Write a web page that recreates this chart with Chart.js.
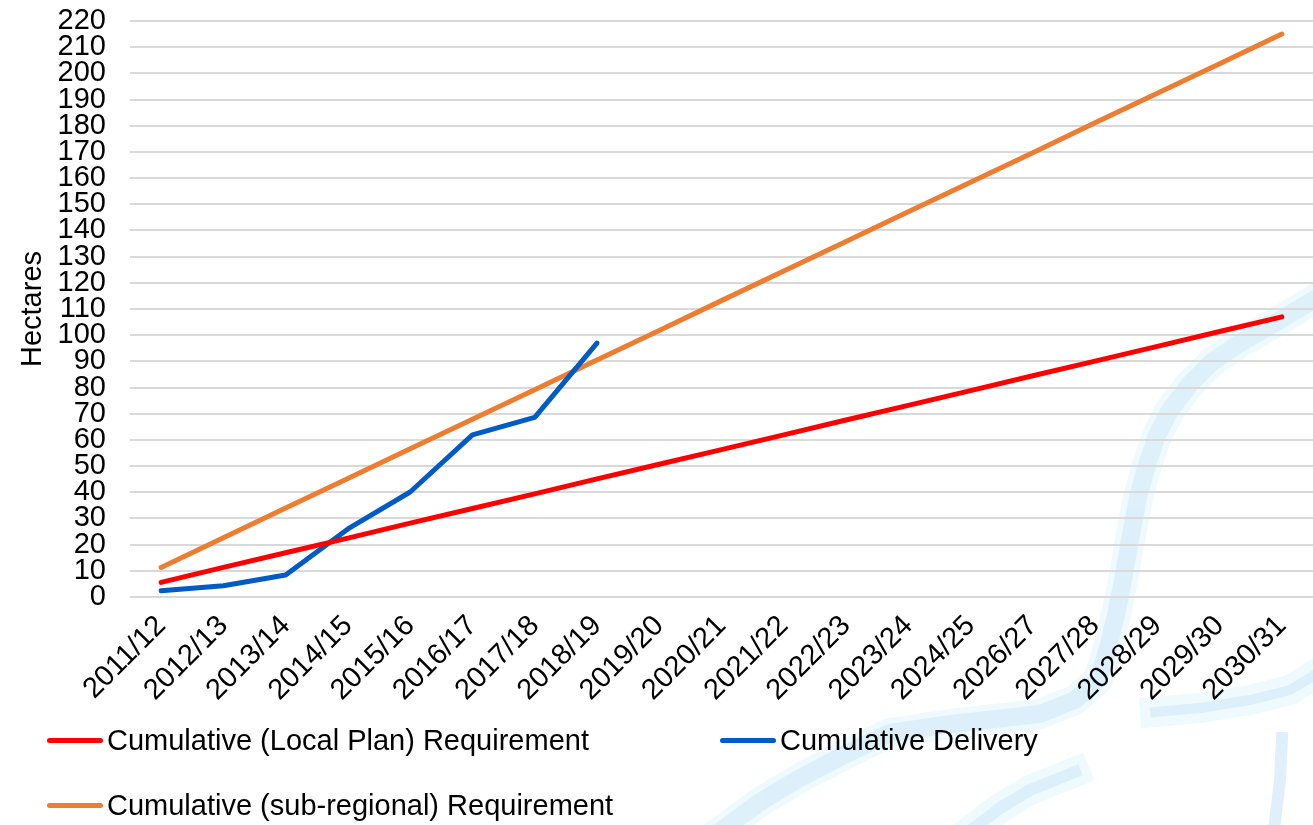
<!DOCTYPE html>
<html lang="en">
<head>
<meta charset="UTF-8">
<title>Cumulative Requirement and Delivery</title>
<script src="https://cdn.jsdelivr.net/npm/chart.js"></script>
<style>
  body { margin: 0; background: #fff; font-family: "Liberation Sans", Arial, sans-serif; }
  #wrap { position: relative; width: 1313px; height: 825px; overflow: hidden; }
  #back, #chart { position: absolute; left: 0; top: 0; }
  .item { position: absolute; display: flex; align-items: center; font-size: 29px; color: #000; white-space: nowrap; }
  .swatch { width: 56px; height: 5px; border-radius: 3px; margin-right: 4px; }
</style>
</head>
<body>
<div id="wrap">
  <!-- faint blue backdrop shape behind the plot -->
  <svg id="back" width="1313" height="825">
    <g fill="none" stroke-linecap="square" stroke-linejoin="round">
      <g stroke="#eefafe" stroke-width="30">
        <polyline points="1320,296 1280,320 1240,343 1212,362 1190,384 1170,410 1156,438 1146,468 1138,498 1130,540 1123,580 1116,615 1108,648 1098,680 1075,700 1040,714 950,724 890,733 850,752 800,778 760,802 722,830"/>
        <polyline points="1075,772 1030,790 1000,808 965,835"/>
        <polyline points="1155,712 1200,708 1250,700 1290,690 1320,672"/>
      </g>
      <g stroke="#daeefa" opacity="0.85">
        <polyline stroke-width="18" points="1320,296 1280,320 1240,343 1212,362 1190,384 1170,410 1156,438 1146,468 1138,498 1130,540 1123,580 1116,615 1108,648 1098,680 1075,700 1040,714 950,724 890,733 850,752 800,778 760,802 722,830"/>
        <polyline stroke-width="12" points="1075,772 1030,790 1000,808 965,835"/>
        <polyline stroke-width="12" points="1282,738 1280,780 1274,830"/>
        <polyline stroke-width="10" points="1155,712 1200,708 1250,700 1290,690 1320,672"/>
      </g>
    </g>
  </svg>
  <canvas id="chart" width="1313" height="825"></canvas>
  <div id="legend"></div>
</div>
<script>
// years on the x axis (no 2025/26 row in the table)
const years = ['2011/12', '2012/13', '2013/14', '2014/15', '2015/16', '2016/17', '2017/18',
  '2018/19', '2019/20', '2020/21', '2021/22', '2022/23', '2023/24', '2024/25',
  '2026/27', '2027/28', '2028/29', '2029/30', '2030/31'];

const localPlan = [5.6, 11.3, 16.9, 22.5, 28.2, 33.8, 39.4, 45.1, 50.7, 56.3,
  61.9, 67.6, 73.2, 78.8, 84.5, 90.1, 95.7, 101.4, 107.0];

const subRegional = [11.3, 22.6, 34.0, 45.3, 56.6, 67.9, 79.2, 90.5, 101.8, 113.2,
  124.5, 135.8, 147.1, 158.4, 169.7, 181.1, 192.4, 203.7, 215.0];

const delivery = [2.4, 4.3, 8.4, 26.0, 40.1, 61.9, 68.6, 97.0];

const yMin = 0, yMax = 220, yStep = 10;

const font = { family: '"Liberation Sans", Arial, sans-serif', size: 29 };

const series = [
  { label: 'Cumulative (Local Plan) Requirement', data: localPlan, color: '#FF0000' },
  { label: 'Cumulative Delivery', data: delivery, color: '#005BC4' },
  { label: 'Cumulative (sub-regional) Requirement', data: subRegional, color: '#ED7D31' }
];

const chart = new Chart(document.getElementById('chart'), {
  type: 'line',
  data: {
    labels: years,
    datasets: series.map(s => ({
      label: s.label,
      data: s.data,
      borderColor: s.color,
      backgroundColor: s.color,
      borderWidth: 5,
      borderCapStyle: 'round',
      borderJoinStyle: 'round',
      pointRadius: 0,
      tension: 0
    }))
  },
  options: {
    responsive: false,
    animation: false,
    layout: { autoPadding: false, padding: { top: 21, right: 0, bottom: 0, left: 0 } },
    plugins: { legend: { display: false }, tooltip: { enabled: false } },
    scales: {
      x: {
        offset: true,
        grid: { display: false },
        border: { display: false },
        ticks: { color: '#000', font: font, maxRotation: 45, minRotation: 45, autoSkip: false, padding: 4 },
        afterFit: s => { s.height = 228; }
      },
      y: {
        min: yMin,
        max: yMax,
        grid: { color: '#d9d9d9', lineWidth: 2, drawTicks: false },
        border: { display: false },
        ticks: { stepSize: yStep, color: '#000', font: font, padding: 24, autoSkip: false },
        title: { display: true, text: 'Hectares', color: '#000', font: font, padding: { top: 16, bottom: 0 } },
        afterFit: s => {
          s.width = 130;
          // labels may hang over the top edge; the plot starts right at the padding
          s.paddingTop = 0;
          s.paddingBottom = 0;
        }
      }
    }
  }
});

// legend under the axis: two items on the first row, one on the second
const legendSpots = [
  { left: 47, top: 740 },
  { left: 720, top: 740 },
  { left: 47, top: 805 }
];
const legend = document.getElementById('legend');
series.forEach((s, i) => {
  const item = document.createElement('div');
  item.className = 'item';
  item.style.left = legendSpots[i].left + 'px';
  item.style.top = (legendSpots[i].top - 18) + 'px';
  item.style.height = '36px';
  const sw = document.createElement('span');
  sw.className = 'swatch';
  sw.style.background = s.color;
  const tx = document.createElement('span');
  tx.textContent = s.label;
  item.appendChild(sw);
  item.appendChild(tx);
  legend.appendChild(item);
});
</script>
</body>
</html>
